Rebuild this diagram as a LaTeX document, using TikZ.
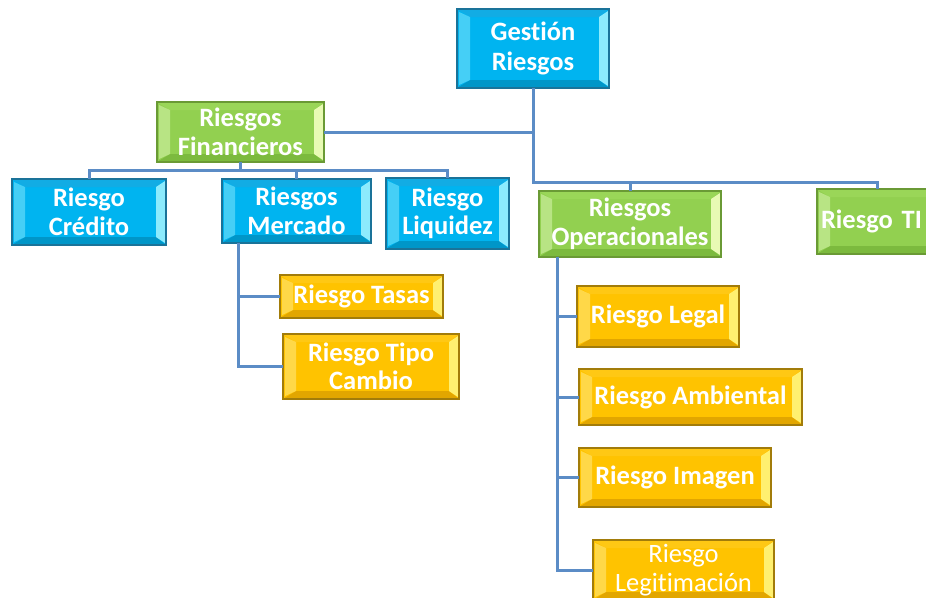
\documentclass[tikz,border=0pt]{standalone}
\usepackage{fontspec}
\setmainfont{Carlito}[Ligatures=NoCommon]
\definecolor{bbase}{HTML}{00B4F0}
\definecolor{bdark}{HTML}{1A7399}
\definecolor{bleft}{HTML}{45CFF6}
\definecolor{bright}{HTML}{8CEBFD}
\definecolor{btop}{HTML}{12ACE4}
\definecolor{bbot}{HTML}{0096C8}
\definecolor{gbase}{HTML}{92D050}
\definecolor{gdark}{HTML}{6A9A35}
\definecolor{gleft}{HTML}{B8E484}
\definecolor{gright}{HTML}{E8FAB4}
\definecolor{gtop}{HTML}{9AD658}
\definecolor{gbot}{HTML}{7CBA3E}
\definecolor{ybase}{HTML}{FFC300}
\definecolor{ydark}{HTML}{A27C0A}
\definecolor{yleft}{HTML}{FFD848}
\definecolor{yright}{HTML}{FFF070}
\definecolor{ytop}{HTML}{FFC814}
\definecolor{ybot}{HTML}{E2A600}
\definecolor{lc}{HTML}{5B8CC6}
\newcommand\bevdraw[4]{%
 \fill[#3] (path picture bounding box.north west) -- (path picture bounding box.north east)
   -- ([shift={(-10pt,-8pt)}]path picture bounding box.north east)
   -- ([shift={(13pt,-8pt)}]path picture bounding box.north west) -- cycle;
 \fill[#4] (path picture bounding box.south west) -- (path picture bounding box.south east)
   -- ([shift={(-10pt,8pt)}]path picture bounding box.south east)
   -- ([shift={(13pt,8pt)}]path picture bounding box.south west) -- cycle;
 \fill[#1] ([shift={(2pt,-3pt)}]path picture bounding box.north west)
   -- ([shift={(13pt,-8pt)}]path picture bounding box.north west)
   -- ([shift={(13pt,8pt)}]path picture bounding box.south west)
   -- ([shift={(2pt,3pt)}]path picture bounding box.south west) -- cycle;
 \fill[#2] ([shift={(-1pt,-2pt)}]path picture bounding box.north east)
   -- ([shift={(-10pt,-8pt)}]path picture bounding box.north east)
   -- ([shift={(-10pt,8pt)}]path picture bounding box.south east)
   -- ([shift={(-1pt,2pt)}]path picture bounding box.south east) -- cycle;
}
\tikzset{
 box/.style={rectangle, inner sep=0pt, outer sep=0pt, align=center, text=white,
   font=\bfseries\fontsize{26.5}{28.5}\selectfont, line width=1.6pt},
 bluebox/.style={box, fill=bbase, draw=bdark, path picture={\bevdraw{bleft}{bright}{btop}{bbot}}},
 greenbox/.style={box, fill=gbase, draw=gdark, path picture={\bevdraw{gleft}{gright}{gtop}{gbot}}},
 goldbox/.style={box, fill=ybase, draw=ydark, path picture={\bevdraw{yleft}{yright}{ytop}{ybot}}},
 conn/.style={draw=lc, line width=3pt},
}
\begin{document}
\begin{tikzpicture}[x=1pt,y=-1pt]
\useasboundingbox (0,0) rectangle (926,597);
\clip (0,0) rectangle (926,597);
\coordinate (obar) at (533,182);
\coordinate (fbar) at (240.5,170);
\node[bluebox, minimum width=152pt, minimum height=79pt, font=\bfseries\fontsize{26.5}{30}\selectfont] (gest) at (533,48.5) {Gestión\\Riesgos};
\node[greenbox, minimum width=167pt, minimum height=60pt] (fin) at (240.5,132) {Riesgos\\Financieros};
\node[bluebox, minimum width=154pt, minimum height=66pt] (cred) at (89,212) {Riesgo\\Crédito};
\node[bluebox, minimum width=149pt, minimum height=64pt] (merc) at (296.5,211) {Riesgos\\Mercado};
\node[bluebox, minimum width=123pt, minimum height=71pt] (liq) at (447.5,213.5) {Riesgo\\Liquidez};
\node[greenbox, minimum width=182pt, minimum height=66pt] (oper) at (630,224) {Riesgos\\Operacionales};
\node[greenbox, minimum width=120pt, minimum height=65pt, text width=120pt, align=left] (ti) at (877,221.5) {\hspace*{4pt}Riesgo TI};
\node[goldbox, minimum width=163pt, minimum height=43pt] (tasas) at (361.5,296.5) {Riesgo Tasas};
\node[goldbox, minimum width=176pt, minimum height=65pt] (cambio) at (371,366.5) {Riesgo Tipo\\Cambio};
\node[goldbox, minimum width=162pt, minimum height=61pt] (legal) at (658,316.5) {Riesgo Legal};
\node[goldbox, minimum width=223pt, minimum height=56pt] (amb) at (690.5,397) {Riesgo Ambiental};
\node[goldbox, minimum width=192pt, minimum height=59pt] (img) at (675,477.5) {Riesgo Imagen};
\node[goldbox, minimum width=181pt, minimum height=60pt, font=\mdseries\fontsize{26.5}{28.5}\selectfont] (legit) at (683.5,570) {Riesgo\\Legitimación};
\draw[conn] (gest.south) |- (fin.east);
\draw[conn] (gest.south) -- (obar) -| (oper.north);
\draw[conn] (obar) -| (ti.north);
\draw[conn] (fin.south) -- (fbar);
\draw[conn] (fbar) -| (cred.north);
\draw[conn] (fbar) -| (merc.north);
\draw[conn] (fbar) -| (liq.north);
\draw[conn] ([xshift=16pt]merc.south west) |- (tasas.west);
\draw[conn] ([xshift=16pt]merc.south west) |- (cambio.west);
\draw[conn] ([xshift=18pt]oper.south west) |- (legal.west);
\draw[conn] ([xshift=18pt]oper.south west) |- (amb.west);
\draw[conn] ([xshift=18pt]oper.south west) |- (img.west);
\draw[conn] ([xshift=18pt]oper.south west) |- (legit.west);
\end{tikzpicture}
\end{document}
